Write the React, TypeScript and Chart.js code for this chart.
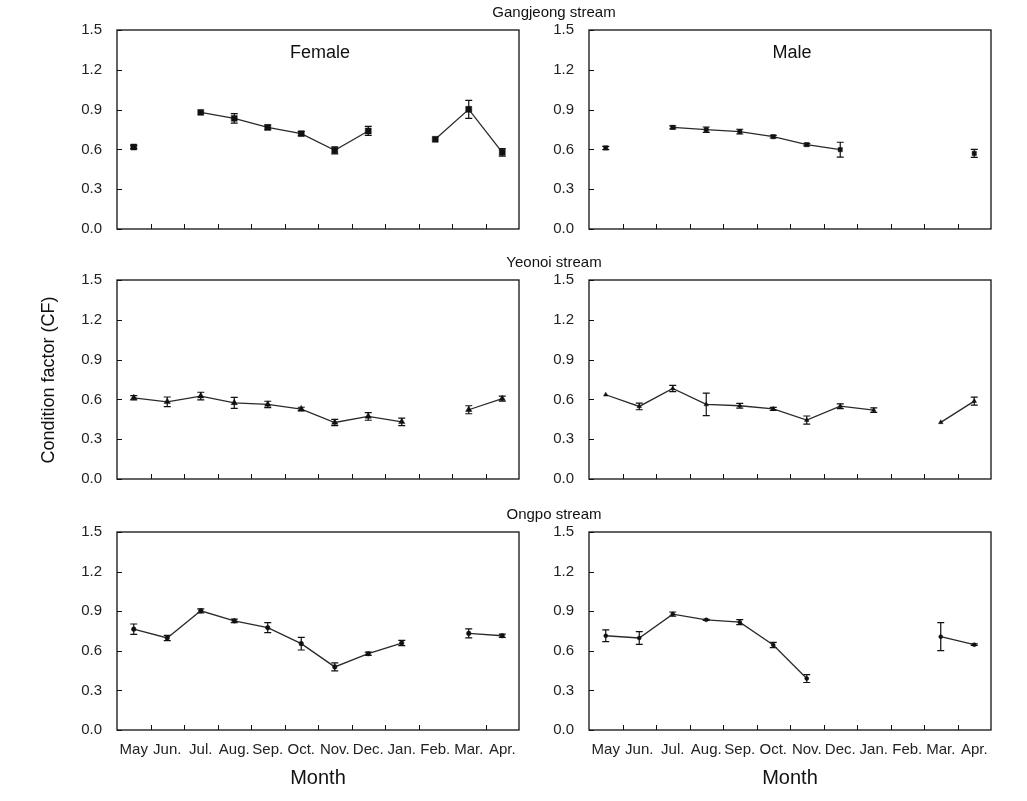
import React, { useEffect, useRef } from "react";
import { Chart, registerables } from "chart.js";

Chart.register(...registerables);

const FONT = '"Liberation Sans", Arial, Helvetica, sans-serif';

const months = ["May", "Jun.", "Jul.", "Aug.", "Sep.", "Oct.", "Nov.", "Dec.", "Jan.", "Feb.", "Mar.", "Apr."];
const yTickValues = [0, 0.3, 0.6, 0.9, 1.2, 1.5];
const streamTitles = ["Gangjeong stream", "Yeonoi stream", "Ongpo stream"];
const sexLabels = ["Female", "Male"];
const xAxisTitle = "Month";
const yAxisTitle = "Condition factor (CF)";

const gangjeongFemale = [0.618, null, 0.879, 0.834, 0.766, 0.719, 0.593, 0.739, null, 0.676, 0.902, 0.578];
const gangjeongFemaleErr = [0.012, null, 0, 0.036, 0.018, 0.016, 0.026, 0.034, null, 0, 0.068, 0.028];
const gangjeongMale = [0.611, null, 0.766, 0.749, 0.734, 0.696, 0.636, 0.598, null, null, null, 0.57];
const gangjeongMaleErr = [0.012, null, 0.012, 0.02, 0.018, 0.01, 0.01, 0.056, null, null, null, 0.03];

const yeonoiFemale = [0.612, 0.582, 0.625, 0.574, 0.562, 0.527, 0.426, 0.472, 0.431, null, 0.522, 0.605];
const yeonoiFemaleErr = [0.016, 0.036, 0.029, 0.041, 0.024, 0.014, 0.023, 0.029, 0.028, null, 0.03, 0.019];
const yeonoiMale = [0.635, 0.547, 0.682, 0.562, 0.552, 0.529, 0.444, 0.549, 0.519, null, 0.427, 0.587];
const yeonoiMaleErr = [0, 0.025, 0.024, 0.085, 0.018, 0.011, 0.031, 0.018, 0.017, null, 0, 0.03];

const ongpoFemale = [0.764, 0.697, 0.903, 0.827, 0.775, 0.654, 0.478, 0.578, 0.659, null, 0.732, 0.714];
const ongpoFemaleErr = [0.039, 0.02, 0.015, 0.013, 0.038, 0.048, 0.03, 0.012, 0.02, null, 0.034, 0.013];
const ongpoMale = [0.714, 0.697, 0.878, 0.835, 0.817, 0.644, 0.39, null, null, null, 0.707, 0.646];
const ongpoMaleErr = [0.045, 0.048, 0.016, 0.004, 0.019, 0.02, 0.03, null, null, null, 0.106, 0.006];

type PanelCfg = {
  values: (number | null)[];
  errors: (number | null)[];
  pointStyle: string;
  pointRadius: number;
  col: number;
  row: number;
  label?: string;
  hiddenXTicks?: number[];
};

const panels: PanelCfg[] = [
  { values: gangjeongFemale, errors: gangjeongFemaleErr, pointStyle: "rect", pointRadius: 4.2, col: 0, row: 0, label: sexLabels[0] },
  { values: gangjeongMale, errors: gangjeongMaleErr, pointStyle: "rect", pointRadius: 3, col: 1, row: 0, label: sexLabels[1] },
  { values: yeonoiFemale, errors: yeonoiFemaleErr, pointStyle: "triangle", pointRadius: 3.6, col: 0, row: 1 },
  { values: yeonoiMale, errors: yeonoiMaleErr, pointStyle: "triangle", pointRadius: 2.6, col: 1, row: 1 },
  { values: ongpoFemale, errors: ongpoFemaleErr, pointStyle: "circle", pointRadius: 2.3, col: 0, row: 2, hiddenXTicks: [10] },
  { values: ongpoMale, errors: ongpoMaleErr, pointStyle: "circle", pointRadius: 2, col: 1, row: 2 },
];

// layout geometry (page pixels)
const cols = [
  { canvasLeft: 0, canvasWidth: 530, plotLeft: 117, plotRight: 519 },
  { canvasLeft: 530, canvasWidth: 497, plotLeft: 589, plotRight: 991 },
];
const rows = [
  { plotTop: 30, plotBottom: 229, bottomSpace: 26, showX: false },
  { plotTop: 280, plotBottom: 479, bottomSpace: 26, showX: false },
  { plotTop: 532, plotBottom: 730, bottomSpace: 36, showX: true },
];
const TOP_PAD = 26;

const decorPlugin = {
  id: "panelDecor",
  beforeDatasetsDraw(chart: any) {
    const ctx = chart.ctx;
    const yScale = chart.scales.y;
    ctx.save();
    ctx.strokeStyle = "#111";
    ctx.lineWidth = 1.2;
    chart.data.datasets.forEach((ds: any, di: number) => {
      const meta = chart.getDatasetMeta(di);
      const errs = ds.errors || [];
      meta.data.forEach((pt: any, i: number) => {
        const v = ds.data[i];
        const e = errs[i];
        if (v == null || !e) return;
        const x = pt.x;
        const yt = yScale.getPixelForValue(v + e);
        const yb = yScale.getPixelForValue(v - e);
        const cap = 3.5;
        ctx.beginPath();
        ctx.moveTo(x, yt);
        ctx.lineTo(x, yb);
        ctx.moveTo(x - cap, yt);
        ctx.lineTo(x + cap, yt);
        ctx.moveTo(x - cap, yb);
        ctx.lineTo(x + cap, yb);
        ctx.stroke();
      });
    });
    ctx.restore();
  },
  afterDraw(chart: any, _args: any, opts: any) {
    const ctx = chart.ctx;
    const { left, right, top, bottom } = chart.chartArea;
    const xScale = chart.scales.x;
    const yScale = chart.scales.y;
    ctx.save();
    ctx.strokeStyle = "#111";
    ctx.lineWidth = 1.3;
    ctx.strokeRect(left, top, right - left, bottom - top);
    ctx.lineWidth = 1;
    ctx.beginPath();
    yScale.ticks.forEach((t: any) => {
      const y = Math.round(yScale.getPixelForValue(t.value)) + 0.5;
      ctx.moveTo(left, y);
      ctx.lineTo(left + 5, y);
    });
    const hidden: number[] = (opts && opts.hiddenXTicks) || [];
    const n = chart.data.labels.length;
    for (let i = 1; i < n; i++) {
      if (hidden.includes(i)) continue;
      const x = Math.round((xScale.getPixelForValue(i - 1) + xScale.getPixelForValue(i)) / 2) + 0.5;
      ctx.moveTo(x, bottom);
      ctx.lineTo(x, bottom - 5);
    }
    ctx.stroke();
    if (opts && opts.label) {
      ctx.fillStyle = "#111";
      ctx.font = `18px ${FONT}`;
      ctx.textAlign = "center";
      ctx.textBaseline = "middle";
      ctx.fillText(opts.label, (left + right) / 2 + 2, top + 23);
    }
    ctx.restore();
  },
};

function Panel({ cfg }: { cfg: PanelCfg }) {
  const ref = useRef<HTMLCanvasElement>(null);
  const col = cols[cfg.col];
  const row = rows[cfg.row];
  const canvasTop = row.plotTop - TOP_PAD;
  const canvasHeight = row.plotBottom - row.plotTop + TOP_PAD + row.bottomSpace;

  useEffect(() => {
    const chart = new Chart(ref.current as HTMLCanvasElement, {
      type: "line",
      data: {
        labels: months,
        datasets: [
          {
            data: cfg.values,
            errors: cfg.errors,
            borderColor: "#2a2a2a",
            borderWidth: 1.3,
            backgroundColor: "#111",
            pointBackgroundColor: "#111",
            pointBorderColor: "#111",
            pointBorderWidth: 0.5,
            pointStyle: cfg.pointStyle,
            pointRadius: cfg.pointRadius,
            spanGaps: false,
            tension: 0,
          } as any,
        ],
      },
      options: {
        animation: false,
        responsive: false,
        devicePixelRatio: 1,
        events: [],
        layout: {
          padding: {
            top: TOP_PAD,
            bottom: 0,
            left: 0,
            right: col.canvasLeft + col.canvasWidth - col.plotRight,
          },
        },
        plugins: {
          legend: { display: false },
          tooltip: { enabled: false },
          panelDecor: { label: cfg.label, hiddenXTicks: cfg.hiddenXTicks },
        } as any,
        scales: {
          x: {
            type: "category",
            offset: true,
            grid: { display: false, drawTicks: false },
            border: { display: false },
            ticks: {
              display: row.showX,
              autoSkip: false,
              maxRotation: 0,
              minRotation: 0,
              padding: 11,
              color: "#222",
              font: { family: FONT, size: 15 },
            },
            afterFit: (s: any) => {
              s.height = row.bottomSpace;
            },
          },
          y: {
            min: 0,
            max: 1.5,
            grid: { display: false, drawTicks: false },
            border: { display: false },
            afterBuildTicks: (s: any) => {
              s.ticks = yTickValues.map((v) => ({ value: v }));
            },
            ticks: {
              padding: 15,
              color: "#222",
              font: { family: FONT, size: 15 },
              callback: (v: any) => Number(v).toFixed(1),
            },
            afterFit: (s: any) => {
              s.width = col.plotLeft - col.canvasLeft;
            },
          },
        },
      } as any,
      plugins: [decorPlugin],
    });
    return () => chart.destroy();
  }, []);

  return (
    <canvas
      ref={ref}
      width={col.canvasWidth}
      height={canvasHeight}
      style={{
        position: "absolute",
        left: col.canvasLeft,
        top: canvasTop,
        width: col.canvasWidth,
        height: canvasHeight,
      }}
    />
  );
}

const titleY = [12, 262, 514];

export default function App() {
  return (
    <div
      style={{
        position: "absolute",
        left: 0,
        top: 0,
        width: 1027,
        height: 801,
        background: "#fff",
        fontFamily: FONT,
        color: "#111",
        overflow: "hidden",
      }}
    >
      {panels.map((p, i) => (
        <Panel key={i} cfg={p} />
      ))}
      {streamTitles.map((t, i) => (
        <div
          key={t}
          style={{
            position: "absolute",
            left: 354,
            width: 400,
            top: titleY[i] - 10,
            height: 20,
            lineHeight: "20px",
            textAlign: "center",
            fontSize: 15,
          }}
        >
          {t}
        </div>
      ))}
      {cols.map((c, i) => (
        <div
          key={"m" + i}
          style={{
            position: "absolute",
            left: (c.plotLeft + c.plotRight) / 2 - 100,
            width: 200,
            top: 777 - 12,
            height: 24,
            lineHeight: "24px",
            textAlign: "center",
            fontSize: 20,
          }}
        >
          {xAxisTitle}
        </div>
      ))}
      <div
        style={{
          position: "absolute",
          left: 48 - 150,
          top: 380 - 12,
          width: 300,
          height: 24,
          lineHeight: "24px",
          textAlign: "center",
          fontSize: 18,
          transform: "rotate(-90deg)",
          transformOrigin: "50% 50%",
        }}
      >
        {yAxisTitle}
      </div>
    </div>
  );
}
